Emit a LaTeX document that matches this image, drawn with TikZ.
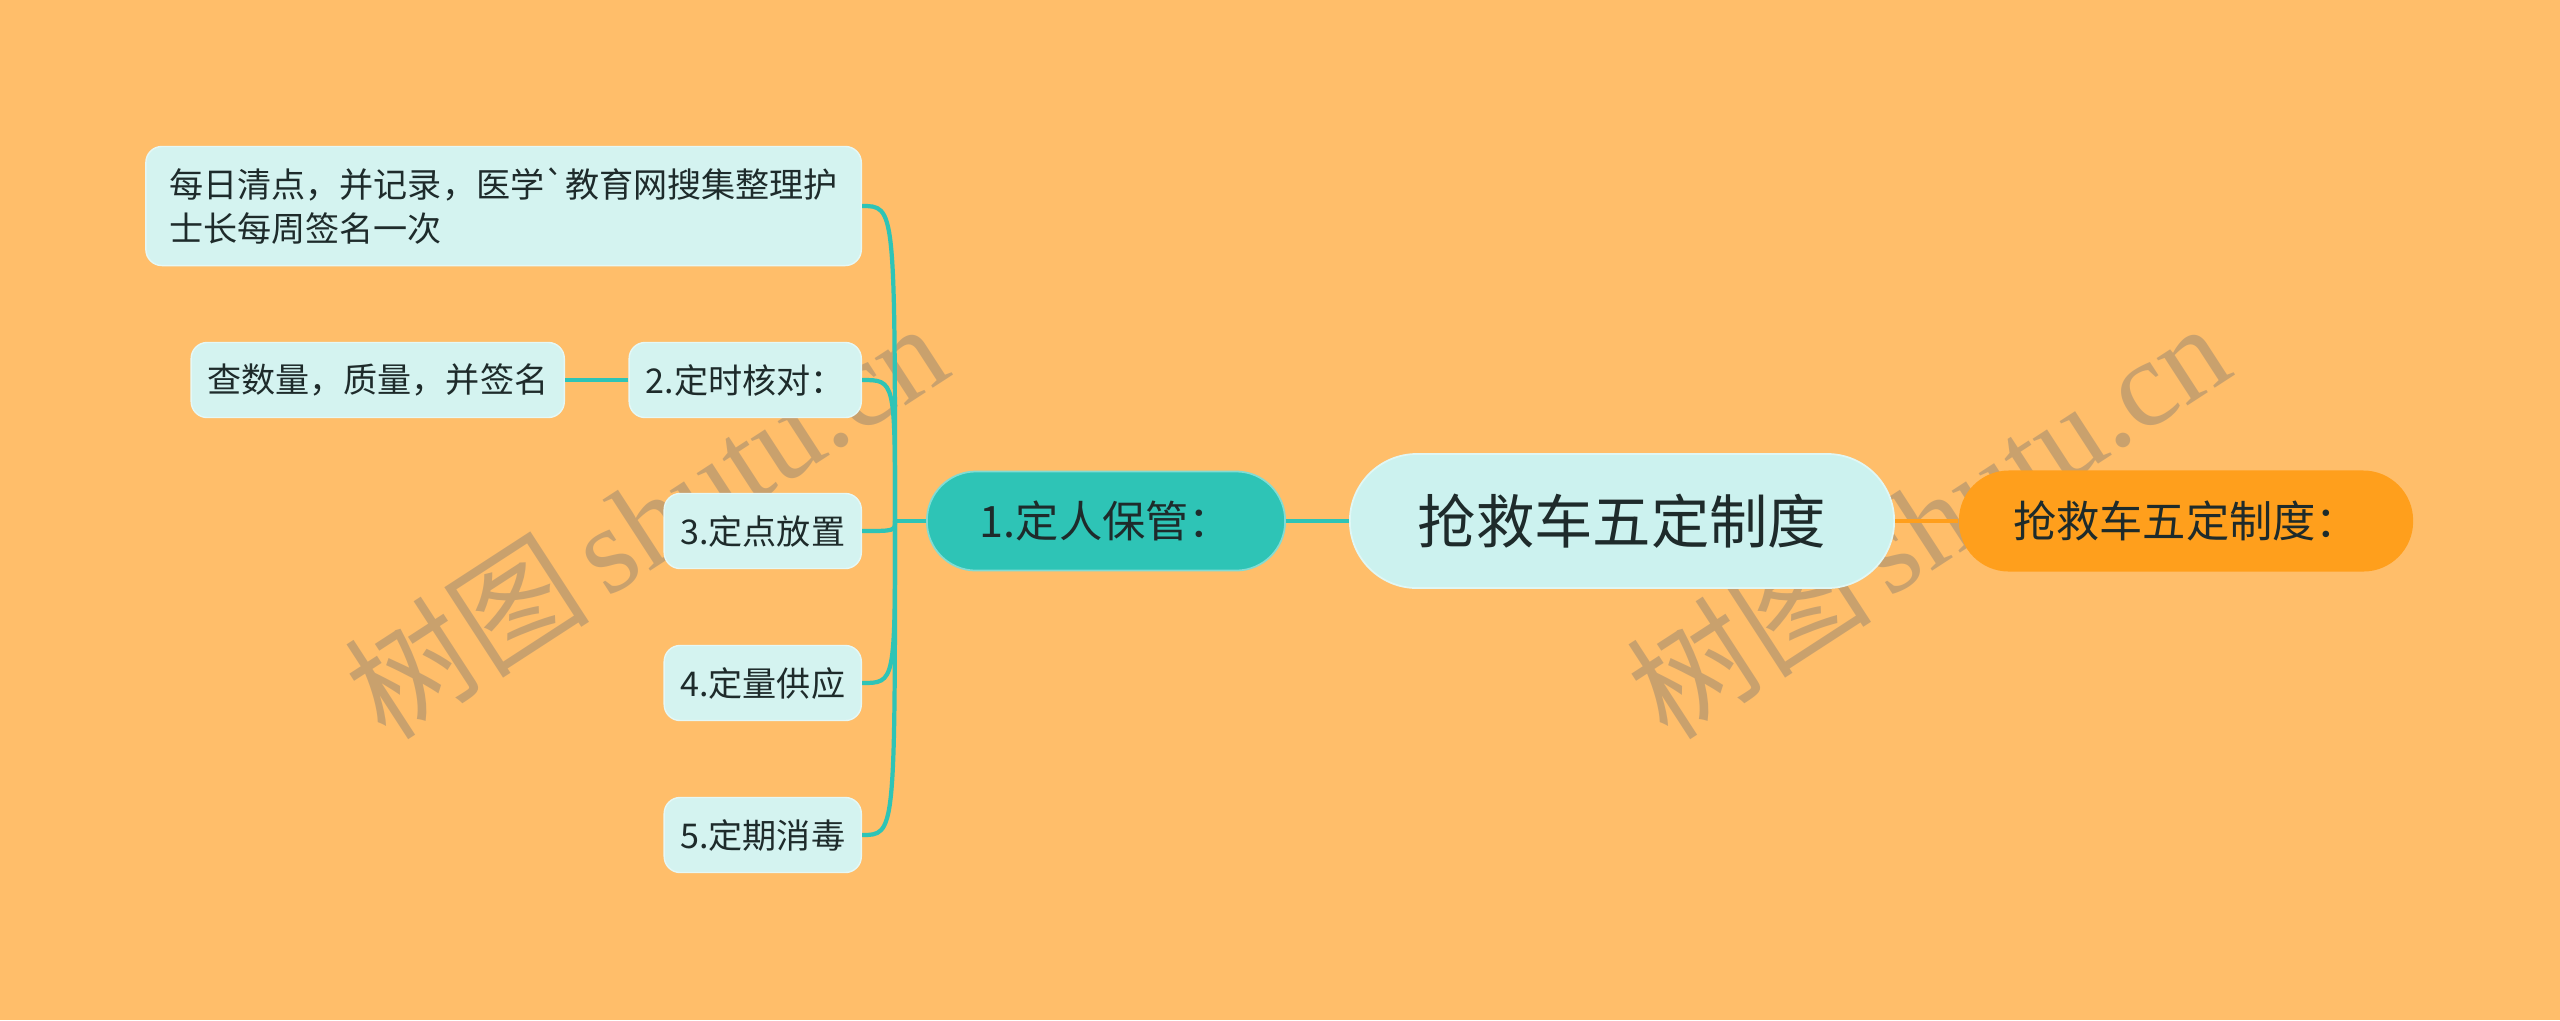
\documentclass[tikz,border=0pt]{standalone}
\usepackage{fontspec}
\setmainfont{Noto Sans CJK SC}[Ligatures=TeXOff]
\newfontfamily\wmfont{Liberation Serif}
\usepackage{tikz}
\usetikzlibrary{positioning, calc}

\definecolor{bgorange}{HTML}{FFBE6A}
\definecolor{leaffill}{HTML}{D4F3F0}
\definecolor{rootfill}{HTML}{CCF2EF}
\definecolor{tealc}{HTML}{2EC4B6}
\definecolor{orangec}{HTML}{FF9F1C}
\definecolor{inkc}{HTML}{1E2B2B}

\begin{document}
\begin{tikzpicture}[x=0.01cm, y=-0.01cm,
		leaf/.style={fill=leaffill, draw=leaffill!60!white, line width=0.4pt, rounded corners=0.16cm, text=inkc, font=\fontsize{9.7pt}{12.5pt}\selectfont, minimum height=0.75cm, inner xsep=0.16cm, anchor=east},
		topic/.style={fill=tealc, draw=tealc!60!white, line width=0.5pt, rounded corners=0.49cm, text=inkc, font=\fontsize{12.3pt}{14pt}\selectfont, minimum width=3.58cm, minimum height=0.99cm},
		wmark/.style={rotate=33, text=black!55, opacity=0.38, font=\fontsize{35pt}{36pt}\selectfont},
		link/.style={line width=1.2pt, tealc}]
	% background
	\fill[bgorange] (0,0) rectangle (2560,1020);
	
	% watermarks
	\node[wmark] (wm1) at (645,519) {树图\hspace{0.15em}{\wmfont shutu.cn}};
	\node[wmark] (wm2) at (1927,519) {树图\hspace{0.15em}{\wmfont shutu.cn}};
	
	% centre and right node
	\node[fill=rootfill, draw=rootfill!60!white, line width=0.5pt, rounded corners=0.67cm, text=inkc, font=\fontsize{16.6pt}{18pt}\selectfont, minimum width=5.44cm, minimum height=1.34cm] (root) at (1622,521) {抢救车五定制度};
	\node[fill=orangec, rounded corners=0.5cm, text=inkc, font=\fontsize{12.3pt}{14pt}\selectfont, minimum width=4.54cm, minimum height=1.01cm] (side) at (2186,521) {抢救车五定制度：};
	
	% main topic
	\node[topic] (keep) at (1106,521) {1.定人保管：};
	
	% leaves
	\node[leaf, align=left, minimum width=7.15cm, minimum height=1.19cm] (daily) at (862,206) {每日清点，并记录，医学`教育网搜集整理护\\士长每周签名一次};
	\node[leaf, minimum width=2.32cm] (check) at (862,380) {2.定时核对：};
	\node[leaf, minimum width=3.72cm] (count) at (565,380) {查数量，质量，并签名};
	\node[leaf, minimum width=1.97cm] (place) at (862,531) {3.定点放置};
	\node[leaf, minimum width=1.97cm] (supply) at (862,683) {4.定量供应};
	\node[leaf, minimum width=1.97cm] (clean) at (862,835) {5.定期消毒};
	
	% connectors
	\draw[line width=1.2pt, orangec] (root.east) -- (side.west);
	\draw[link] (keep.east) -- (root.west);
	\coordinate (trunk) at (895,521);
	\draw[link] (keep.west) -- (trunk);
	\foreach \leafnode/\ly in {daily/206, check/380, place/531, supply/683, clean/835}
		\draw[link] (trunk) .. controls (895,\ly) and (895,\ly) .. (\leafnode.east);
	\draw[link] (check.west) -- (count.east);
\end{tikzpicture}
\end{document}
